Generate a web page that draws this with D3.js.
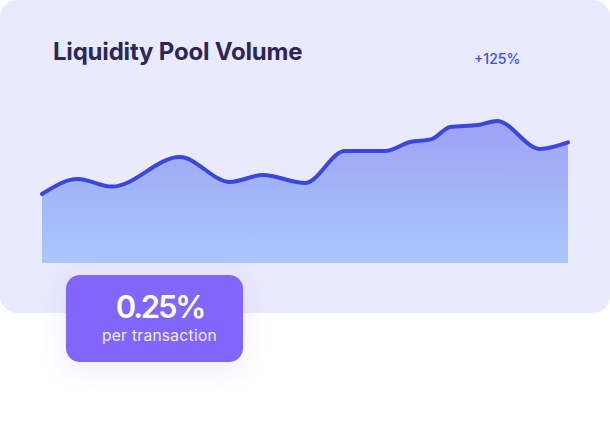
<!DOCTYPE html>
<html>
<head>
<meta charset="utf-8">
<script src="https://cdn.jsdelivr.net/npm/d3@7"></script>
<style>
html,body{margin:0;padding:0;background:#ffffff;}
svg{display:block;}
</style>
</head>
<body>
<svg id="chart" width="610" height="423"></svg>
<script>
const title = "Liquidity Pool Volume";
const changeLabel = "+125%";
const feeValue = "0.25%";
const feeLabel = "per transaction";
const periods = [0, 6.8, 13.3, 26.2, 35.7, 42.0, 50.0, 57.6, 65.2, 70.0, 74.1, 77.6, 82.9, 86.5, 94.7, 100];
const volume  = [42.3, 51.5, 46.9, 65.0, 49.7, 54.0, 49.1, 68.7, 68.7, 74.2, 76.0, 83.5, 84.7, 87.1, 70.0, 74.0];

const svg = d3.select("#chart");
const defs = svg.append("defs");

const grad = defs.append("linearGradient").attr("id","areaGrad").attr("x1",0).attr("y1",0).attr("x2",0).attr("y2",1);
grad.append("stop").attr("offset","0%").attr("stop-color","#9ea2f4");
grad.append("stop").attr("offset","100%").attr("stop-color","#a9c7fb");

const shadow = defs.append("filter").attr("id","shadow").attr("x","-40%").attr("y","-60%").attr("width","180%").attr("height","220%");
shadow.append("feDropShadow").attr("dx",0).attr("dy",6).attr("stdDeviation",12).attr("flood-color","#6a4df0").attr("flood-opacity",0.12);

// card
svg.append("rect").attr("x",0).attr("y",0).attr("width",610).attr("height",313).attr("rx",17).attr("fill","#e9eafe");

svg.append("text").attr("x",53).attr("y",60).text(title)
  .attr("font-family","Inter, 'Noto Sans', sans-serif").attr("font-weight",700).attr("font-size",24)
  .attr("fill","#2c2756").attr("letter-spacing",-0.2);

svg.append("text").attr("x",474).attr("y",64).text(changeLabel)
  .attr("font-family","Inter, 'Noto Sans', sans-serif").attr("font-weight",500).attr("font-size",14)
  .attr("fill","#3d4ce2");

const x = d3.scaleLinear().domain([0, 100]).range([42, 568]);
const y = d3.scaleLinear().domain([0, 100]).range([263, 100]);

const data = periods.map((p,i)=>({p, v: volume[i]}));

const area = d3.area().x(d=>x(d.p)).y0(y(0)).y1(d=>y(d.v)).curve(d3.curveMonotoneX);
const line = d3.line().x(d=>x(d.p)).y(d=>y(d.v)).curve(d3.curveMonotoneX);

svg.append("path").datum(data).attr("d",area).attr("fill","url(#areaGrad)");
svg.append("path").datum(data).attr("d",line).attr("fill","none")
  .attr("stroke","#3a47de").attr("stroke-width",4).attr("stroke-linecap","round").attr("stroke-linejoin","round");

// badge
const badge = svg.append("g");
badge.append("rect").attr("x",66).attr("y",275).attr("width",177).attr("height",87).attr("rx",14)
  .attr("fill","#8265fb").attr("filter","url(#shadow)");
badge.append("text").attr("x",160).attr("y",318).attr("text-anchor","middle").text(feeValue)
  .attr("font-family","Inter, 'Noto Sans', sans-serif").attr("font-weight",600).attr("font-size",31)
  .attr("letter-spacing",-2.2).attr("fill","#ffffff");
badge.append("text").attr("x",159.5).attr("y",341).attr("text-anchor","middle").text(feeLabel)
  .attr("font-family","Inter, 'Noto Sans', sans-serif").attr("font-weight",400).attr("font-size",15.5)
  .attr("fill","#f1edff").attr("letter-spacing",0.3);
</script>
</body>
</html>
